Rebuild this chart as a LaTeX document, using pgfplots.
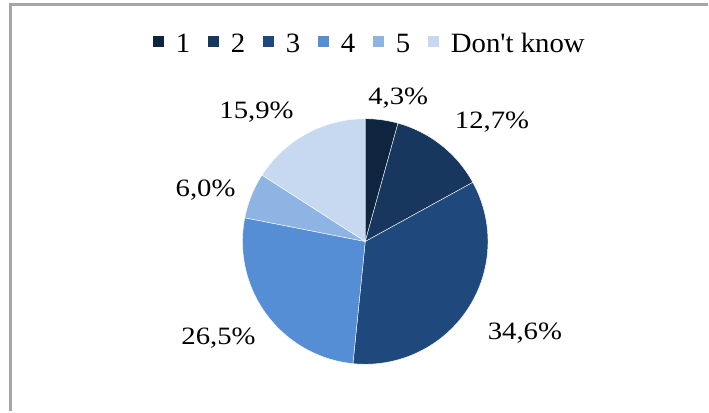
\documentclass[border=0pt]{standalone}
\usepackage{pgfplots}
\pgfplotsset{compat=1.18}
\usepackage{fontspec}
\setmainfont{Liberation Serif}[FakeStretch=1.15, Ligatures=TeXOff]
\newfontfamily\legfont{Liberation Serif}[FakeStretch=1.03, Ligatures=TeXOff]
\definecolor{c1}{HTML}{0F243E}
\definecolor{c2}{HTML}{17375E}
\definecolor{c3}{HTML}{1F497D}
\definecolor{c4}{HTML}{558ED5}
\definecolor{c5}{HTML}{8EB4E3}
\definecolor{c6}{HTML}{C6D9F1}
\definecolor{framegray}{HTML}{A6A6A6}
% slice: colour, cumulative percent before the slice, percent of the slice
\newcommand{\slice}[3]{%
  \addplot[fill=#1, draw=white, line width=0.3pt, samples at={-1,0,...,61}, variable=\t]
    ({366+123*(\t>=0)*(\t<=60)*cos(90-3.6*(#2+#3*\t/60))},
     {170+123*(\t>=0)*(\t<=60)*sin(90-3.6*(#2+#3*\t/60))});
}
\begin{document}
\begin{tikzpicture}
\begin{axis}[
  scale only axis, width=531.75pt, height=309pt,
  xmin=0, xmax=709, ymin=0, ymax=412,
  hide axis, clip=false,
  font=\fontsize{18.75}{20}\selectfont,
  legend columns=-1,
  legend style={draw=none, fill=none, at={(0.523,0.893)}, anchor=center,
    font=\legfont\fontsize{21}{22}\selectfont, inner sep=0pt,
    /tikz/every odd column/.append style={column sep=7pt},
    /tikz/every even column/.append style={column sep=11pt}},
  legend image code/.code={\fill[#1, draw=none] (0pt,-2.5pt) rectangle (8.5pt,6pt);},
]
\path (axis cs:0,0) rectangle (axis cs:709,412);
\draw[framegray, line width=2.2pt] (axis cs:10.5,0) -- (axis cs:10.5,407.5) -- (axis cs:709,407.5);
\slice{c1}{0}{4.3}
\addlegendentry{1}
\slice{c2}{4.3}{12.7}
\addlegendentry{2}
\slice{c3}{17.0}{34.6}
\addlegendentry{3}
\slice{c4}{51.6}{26.5}
\addlegendentry{4}
\slice{c5}{78.1}{6.0}
\addlegendentry{5}
\slice{c6}{84.1}{15.9}
\addlegendentry{Don't know}
\node[anchor=base] at (axis cs:399,307) {4,3\%};
\node[anchor=base] at (axis cs:493,283) {12,7\%};
\node[anchor=base] at (axis cs:526,72) {34,6\%};
\node[anchor=base] at (axis cs:219,67) {26,5\%};
\node[anchor=base] at (axis cs:206,215) {6,0\%};
\node[anchor=base] at (axis cs:257,293) {15,9\%};
\end{axis}
\end{tikzpicture}
\end{document}
